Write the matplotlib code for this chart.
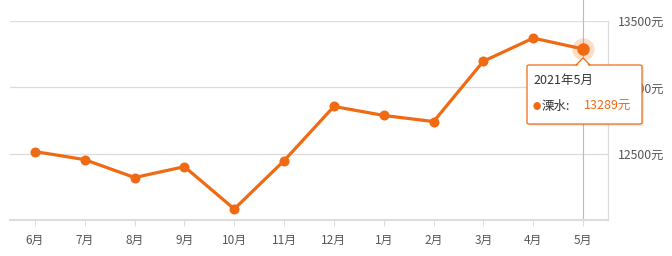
import matplotlib
matplotlib.use('Agg')
import matplotlib.pyplot as plt
from matplotlib.patches import FancyBboxPatch, Polygon

plt.rcParams['font.family'] = ['Noto Sans CJK SC', 'DejaVu Sans']

months = ['6月', '7月', '8月', '9月', '10月', '11月', '12月', '1月', '2月', '3月', '4月', '5月']
prices = [12516, 12455, 12320, 12402, 12083, 12447, 12856, 12788, 12742, 13197, 13371, 13289]
y_ticks = [12500, 13000, 13500]
tip_title = '2021年5月'
tip_name = '溧水:'
tip_value = '13289元'

orange = '#ef6a12'
grid_c = '#dcdcdc'
text_c = '#555555'

fig = plt.figure(figsize=(6.72, 2.56), dpi=100)
ax = fig.add_axes([10 / 672, 36 / 256, 598 / 672, 199 / 256])

x = list(range(len(months)))
ax.plot(x, prices, color=orange, lw=2.3, marker='o', ms=6.2, zorder=3)

# highlighted last point with halo
ax.plot(x[-1], prices[-1], 'o', ms=16, color=orange, alpha=0.22, mec='none', zorder=4)
ax.plot(x[-1], prices[-1], 'o', ms=9, color=orange, mec='none', zorder=5)
ax.axvline(x[-1], ymin=0, ymax=1 + 21 / 199, color='#bbbbbb', lw=0.8, zorder=2, clip_on=False)

ax.set_xlim(-0.5, len(months) - 0.5)
ax.set_ylim(12000, 13500)
ax.set_xticks(x)
ax.set_xticklabels(months, fontsize=8.5, color=text_c)
ax.tick_params(axis='x', length=4, color=grid_c, pad=6)
ax.set_yticks(y_ticks)
ax.yaxis.tick_right()
ax.set_yticklabels([f'{v}元' for v in y_ticks], fontsize=8.8, color=text_c)
ax.tick_params(axis='y', length=0, pad=7)
ax.grid(axis='y', color=grid_c, lw=0.9)
for s in ['top', 'left']:
    ax.spines[s].set_visible(False)
ax.spines['bottom'].set_color(grid_c)
ax.spines['bottom'].set_linewidth(1.5)
ax.spines['right'].set_color(grid_c)
ax.spines['right'].set_linewidth(0.9)

# tooltip box
x0, y0, w, h = 527 / 672, 1 - 124 / 256, 115 / 672, 59 / 256
shadow = FancyBboxPatch((x0 + 0.003, y0 - 0.008), w, h, boxstyle='round,pad=0,rounding_size=0.004',
                        transform=fig.transFigure, fc='#000000', alpha=0.08, ec='none', zorder=9)
box = FancyBboxPatch((x0, y0), w, h, boxstyle='round,pad=0,rounding_size=0.004',
                     transform=fig.transFigure, fc='white', ec=orange, lw=0.9, zorder=10)
fig.patches.extend([shadow, box])
ax_x = 583 / 672
tri = Polygon([[ax_x - 7 / 672, y0 + h], [ax_x, y0 + h + 7 / 256], [ax_x + 7 / 672, y0 + h]],
              closed=True, transform=fig.transFigure, fc='white', ec=orange, lw=0.9, zorder=11)
fig.patches.append(tri)
cover = Polygon([[ax_x - 6 / 672, y0 + h - 1 / 256], [ax_x, y0 + h + 5.5 / 256], [ax_x + 6 / 672, y0 + h - 1 / 256]],
                closed=True, transform=fig.transFigure, fc='white', ec='none', zorder=12)
fig.patches.append(cover)

fig.text(533 / 672, 1 - 80 / 256, tip_title, fontsize=9, color='#333333', va='center', zorder=13)
fig.text(533 / 672, 1 - 106 / 256, '●', fontsize=6, color=orange, va='center', zorder=13)
fig.text(542 / 672, 1 - 106 / 256, tip_name, fontsize=9, color='#333333', va='center', zorder=13)
fig.text(584 / 672, 1 - 106 / 256, tip_value, fontsize=9, color=orange, va='center', zorder=13)

fig.savefig('out.png', dpi=100)
